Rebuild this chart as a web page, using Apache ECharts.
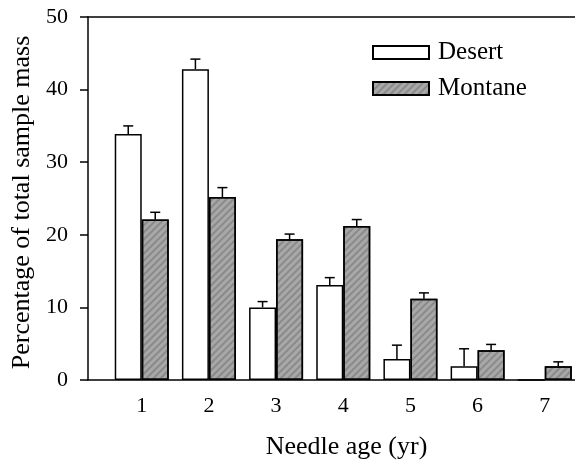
<!DOCTYPE html>
<html>
<head>
<meta charset="utf-8">
<script src="https://cdn.jsdelivr.net/npm/echarts@6/dist/echarts.min.js"></script>
<style>
html,body{margin:0;padding:0;background:#fff;}
#chart{width:575px;height:460px;}
</style>
</head>
<body>
<div id="chart"></div>
<script>
// ---- data ----
var categories = [1, 2, 3, 4, 5, 6, 7];
var desertValues = [33.9, 42.8, 10.0, 13.1, 2.9, 1.9, 0];
var desertErrors = [1.1, 1.4, 0.8, 1.0, 1.9, 2.4, null];
var montaneValues = [22.1, 25.2, 19.4, 21.2, 11.2, 4.1, 1.9];
var montaneErrors = [1.0, 1.3, 0.7, 0.9, 0.8, 0.8, 0.6];
var yTicks = [0, 10, 20, 30, 40, 50];
var seriesNames = ['Desert', 'Montane'];

var FONT = '"Liberation Serif", "Times New Roman", serif';
var BAR_W = 27;
var CAP_W = 10;

function pairs(vals) {
  return categories.map(function (c, i) { return [c, vals[i]]; });
}
function errData(vals, errs) {
  var out = [];
  categories.forEach(function (c, i) {
    if (errs[i] != null) out.push([c, vals[i], errs[i]]);
  });
  return out;
}
function errSeries(vals, errs, side) {
  return {
    type: 'custom',
    xAxisIndex: 0,
    yAxisIndex: 0,
    silent: true,
    z: 5,
    data: errData(vals, errs),
    encode: { x: 0, y: 1 },
    renderItem: function (params, api) {
      var x = api.value(0), v = api.value(1), e = api.value(2);
      var base = api.coord([x, v]);
      var top = api.coord([x, v + e]);
      var cx = base[0] + side * BAR_W / 2;
      var st = { stroke: '#000', lineWidth: 1.5 };
      return {
        type: 'group',
        children: [
          { type: 'line', shape: { x1: cx, y1: base[1], x2: cx, y2: top[1] }, style: st },
          { type: 'line', shape: { x1: cx - CAP_W / 2, y1: top[1], x2: cx + CAP_W / 2, y2: top[1] }, style: st }
        ]
      };
    }
  };
}

var montaneDecal = {
  symbol: 'rect',
  symbolSize: 1,
  dashArrayX: [1, 0],
  dashArrayY: [1.5, 2.5],
  rotation: -Math.PI / 4,
  color: 'rgba(70,70,70,0.3)'
};

var chart = echarts.init(document.getElementById('chart'), null, { renderer: 'canvas' });
chart.setOption({
  animation: false,
  backgroundColor: '#fff',
  textStyle: { fontFamily: FONT },
  grid: { left: 88, right: 0, top: 17, bottom: 80, containLabel: false, outerBoundsMode: 'none' },
  legend: {
    orient: 'vertical',
    left: 367,
    top: 35,
    itemWidth: 56,
    itemHeight: 13,
    itemGap: 11,
    icon: 'rect',
    textStyle: { fontFamily: FONT, fontSize: 25, color: '#000', padding: [0, 0, 0, 4] },
    data: seriesNames
  },
  xAxis: [
    {
      type: 'value',
      position: 'bottom',
      min: 0.2,
      max: 7.45,
      splitLine: { show: false },
      axisLine: { show: true, onZero: false, lineStyle: { color: '#000', width: 1.5 } },
      axisTick: { show: false },
      axisLabel: {
        customValues: categories,
        fontFamily: FONT, fontSize: 22, color: '#000', margin: 15
      },
      name: 'Needle age (yr)',
      nameLocation: 'middle',
      nameGap: 54,
      nameTextStyle: { fontFamily: FONT, fontSize: 26, color: '#000', padding: [0, 0, 0, 30] }
    },
    {
      type: 'value',
      position: 'top',
      min: 0.2,
      max: 7.45,
      splitLine: { show: false },
      axisLine: { show: true, onZero: false, lineStyle: { color: '#000', width: 1.5 } },
      axisTick: { show: false },
      axisLabel: { show: false }
    }
  ],
  yAxis: {
    type: 'value',
    min: 0,
    max: 50,
    interval: 10,
    splitLine: { show: false },
    axisLine: { show: true, lineStyle: { color: '#000', width: 1.5 } },
    axisTick: { show: true, length: 8, inside: false, lineStyle: { color: '#000', width: 1.5 } },
    axisLabel: {
      fontFamily: FONT, fontSize: 22, color: '#000', margin: 20,
      customValues: yTicks
    },
    name: 'Percentage of total sample mass',
    nameLocation: 'middle',
    nameGap: 53,
    nameTextStyle: { fontFamily: FONT, fontSize: 26, color: '#000', padding: [0, 8, 0, 0] }
  },
  series: [
    {
      name: seriesNames[0],
      type: 'bar',
      xAxisIndex: 0,
      barWidth: BAR_W,
      barGap: '0%',
      itemStyle: { color: '#fff', borderColor: '#000', borderWidth: 1.5 },
      data: pairs(desertValues)
    },
    {
      name: seriesNames[1],
      type: 'bar',
      xAxisIndex: 0,
      barWidth: BAR_W,
      barGap: '0%',
      itemStyle: { color: '#a8a8a8', borderColor: '#000', borderWidth: 1.5, decal: montaneDecal },
      data: pairs(montaneValues)
    },
    errSeries(desertValues, desertErrors, -1),
    errSeries(montaneValues, montaneErrors, 1)
  ]
});
</script>
</body>
</html>
